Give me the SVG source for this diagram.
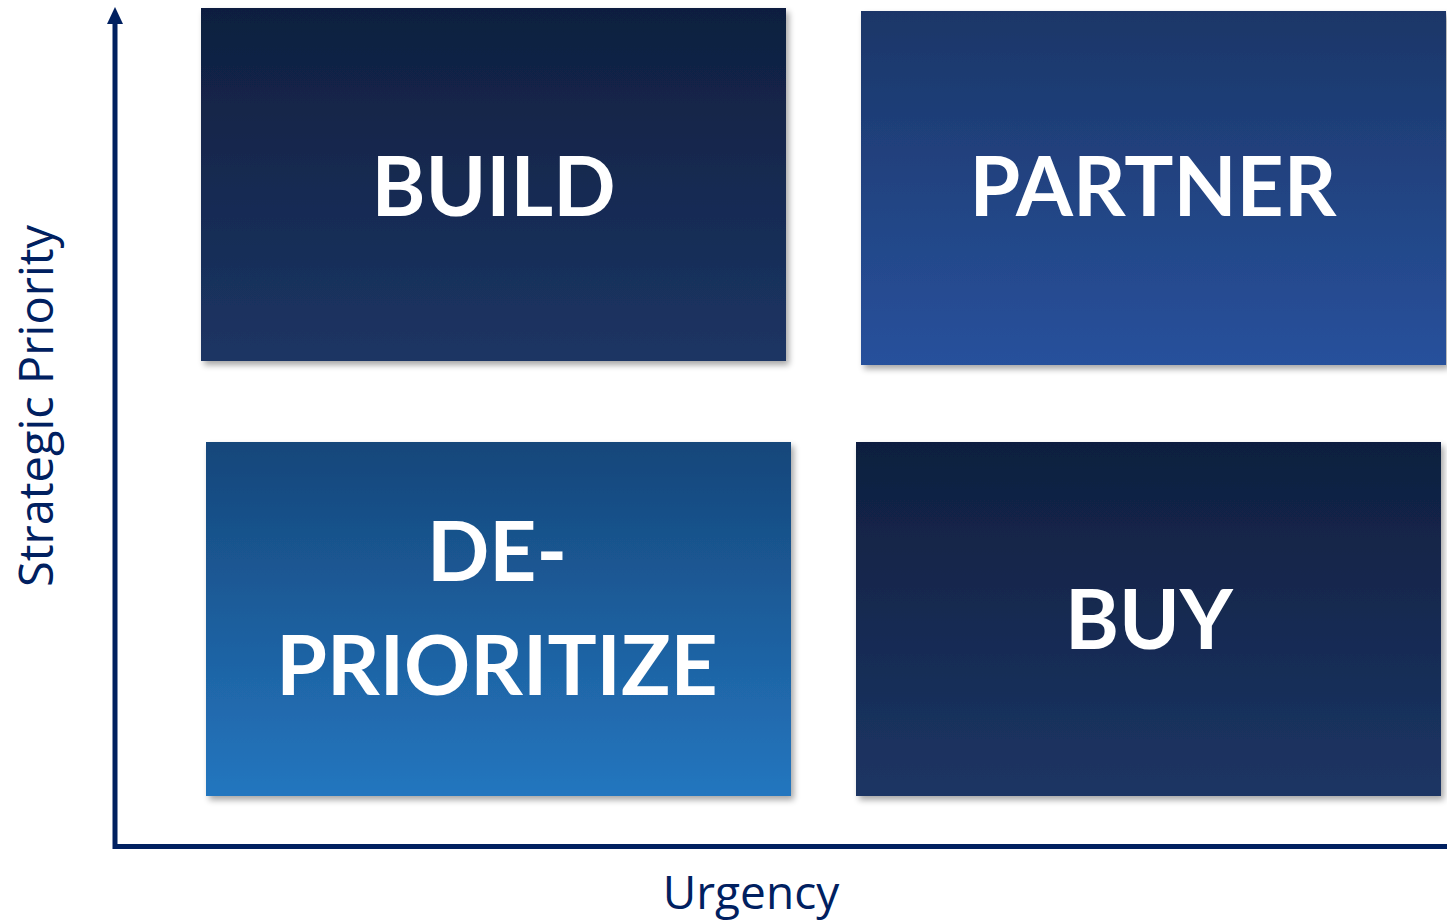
<svg xmlns="http://www.w3.org/2000/svg" width="1447" height="923" viewBox="0 0 1447 923">
  <defs>
    <linearGradient id="gDark" x1="0" y1="0" x2="0" y2="1">
      <stop offset="0" stop-color="#0F1F3F"/>
      <stop offset="1" stop-color="#1C3564"/>
    </linearGradient>
    <linearGradient id="gMid" x1="0" y1="0" x2="0" y2="1">
      <stop offset="0" stop-color="#1B3668"/>
      <stop offset="1" stop-color="#28519C"/>
    </linearGradient>
    <linearGradient id="gLight" x1="0" y1="0" x2="0" y2="1">
      <stop offset="0" stop-color="#15467A"/>
      <stop offset="1" stop-color="#2476BF"/>
    </linearGradient>
    <filter id="shadow" x="-5%" y="-5%" width="112%" height="115%">
      <feGaussianBlur in="SourceAlpha" stdDeviation="3"/>
      <feOffset dx="3" dy="4" result="b"/>
      <feComponentTransfer><feFuncA type="linear" slope="0.35"/></feComponentTransfer>
      <feMerge><feMergeNode/><feMergeNode in="SourceGraphic"/></feMerge>
    </filter>
  </defs>
  <style>
    .label { font-family: Lato, "Open Sans", sans-serif; font-weight: bold; font-size: 82px; fill: #FFFFFF; text-anchor: middle; }
    .axis-label { font-family: "Open Sans", Lato, sans-serif; font-size: 47px; fill: #002060; }
    .axis { stroke: #002060; stroke-width: 5; fill: none; }
  </style>

  <g id="connectors">
    <path class="axis" d="M115,22 V846.5 H1447"/>
    <polygon points="115,7 107,24 123,24" fill="#002060"/>
  </g>

  <g id="build" filter="url(#shadow)">
    <rect x="201" y="8" width="585" height="353" fill="url(#gDark)"/>
    <text class="label" x="493.5" y="216">BUILD</text>
  </g>

  <g id="partner" filter="url(#shadow)">
    <rect x="861" y="11" width="585" height="354" fill="url(#gMid)"/>
    <text class="label" x="1153" y="216">PARTNER</text>
  </g>

  <g id="de-prioritize" filter="url(#shadow)">
    <rect x="206" y="442" width="585" height="354" fill="url(#gLight)"/>
    <text class="label" x="497" y="581">DE-</text>
    <text class="label" x="497" y="695">PRIORITIZE</text>
  </g>

  <g id="buy" filter="url(#shadow)">
    <rect x="856" y="442" width="585" height="354" fill="url(#gDark)"/>
    <text class="label" x="1149" y="649">BUY</text>
  </g>

  <g id="axis-labels">
    <text class="axis-label" x="751" y="909" text-anchor="middle" style="font-size:46px">Urgency</text>
    <text class="axis-label" transform="translate(53,406) rotate(-90)" text-anchor="middle">Strategic Priority</text>
  </g>
</svg>
